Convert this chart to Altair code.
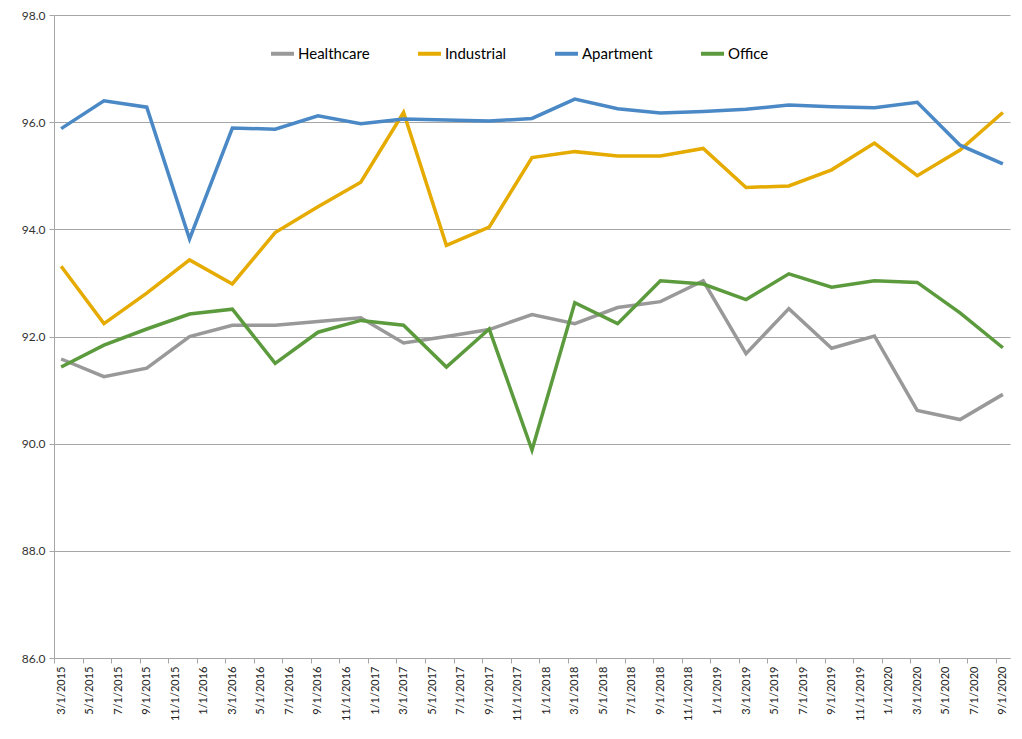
import json
import altair as alt
import pandas as pd

# ---- data ----
dates = ["3/1/2015", "6/1/2015", "9/1/2015", "12/1/2015",
         "3/1/2016", "6/1/2016", "9/1/2016", "12/1/2016",
         "3/1/2017", "6/1/2017", "9/1/2017", "12/1/2017",
         "3/1/2018", "6/1/2018", "9/1/2018", "12/1/2018",
         "3/1/2019", "6/1/2019", "9/1/2019", "12/1/2019",
         "3/1/2020", "6/1/2020", "9/1/2020"]

healthcare = [91.58, 91.25, 91.41, 92.00, 92.21, 92.21, 92.28, 92.35,
              91.88, 92.00, 92.13, 92.41, 92.24, 92.54, 92.65, 93.04,
              91.68, 92.52, 91.78, 92.01, 90.62, 90.45, 90.92]
industrial = [93.31, 92.24, 92.81, 93.43, 92.98, 93.94, 94.42, 94.88,
              96.18, 93.70, 94.04, 95.34, 95.45, 95.37, 95.37, 95.51,
              94.78, 94.81, 95.11, 95.61, 95.00, 95.48, 96.18]
apartment = [95.88, 96.40, 96.28, 93.82, 95.89, 95.87, 96.12, 95.97,
             96.06, 96.04, 96.02, 96.07, 96.43, 96.25, 96.17, 96.20,
             96.24, 96.32, 96.29, 96.27, 96.37, 95.57, 95.22]
office = [91.43, 91.84, 92.14, 92.42, 92.51, 91.50, 92.08, 92.30,
          92.21, 91.43, 92.14, 89.88, 92.63, 92.24, 93.04, 92.98,
          92.69, 93.17, 92.92, 93.04, 93.01, 92.44, 91.79]

x_labels = ["3/1/2015", "5/1/2015", "7/1/2015", "9/1/2015", "11/1/2015",
            "1/1/2016", "3/1/2016", "5/1/2016", "7/1/2016", "9/1/2016", "11/1/2016",
            "1/1/2017", "3/1/2017", "5/1/2017", "7/1/2017", "9/1/2017", "11/1/2017",
            "1/1/2018", "3/1/2018", "5/1/2018", "7/1/2018", "9/1/2018", "11/1/2018",
            "1/1/2019", "3/1/2019", "5/1/2019", "7/1/2019", "9/1/2019", "11/1/2019",
            "1/1/2020", "3/1/2020", "5/1/2020", "7/1/2020", "9/1/2020"]

y_ticks = [86.0, 88.0, 90.0, 92.0, 94.0, 96.0, 98.0]

series_names = ["Healthcare", "Industrial", "Apartment", "Office"]
series_colors = ["#999999", "#E5AB00", "#4A89C5", "#5C9B3D"]


def month_index(s):
    m, d, y = map(int, s.split("/"))
    return (y - 2015) * 12 + (m - 3)


rows = []
for name, vals in zip(series_names, [healthcare, industrial, apartment, office]):
    for dt, v in zip(dates, vals):
        rows.append({"series": name, "date": dt,
                     "pos": month_index(dt) + 0.5, "value": v})
df = pd.DataFrame(rows)

n_months = month_index(x_labels[-1]) + 1
tick_vals = [month_index(s) for s in x_labels]
label_expr = json.dumps(x_labels) + "[round(datum.value / 2)]"

W, H = 956, 643
half_month = W / n_months / 2

FONT = "Lato"
GRID = "#A6A6A6"

x_enc = alt.X(
    "pos:Q",
    title=None,
    scale=alt.Scale(domain=[0, n_months], nice=False, zero=False),
    axis=alt.Axis(values=tick_vals, labelExpr=label_expr, labelAngle=-90,
                  labelOffset=half_month, labelFont=FONT, labelFontSize=11,
                  labelColor="#222222", labelPadding=3, tickSize=5,
                  tickColor=GRID, domainColor=GRID, grid=False,
                  labelOverlap=False, labelFlush=False),
)
y_enc = alt.Y(
    "value:Q",
    title=None,
    scale=alt.Scale(domain=[86, 98], nice=False, zero=False),
    axis=alt.Axis(values=y_ticks, format=".1f", labelFont=FONT, labelFontSize=12,
                  labelColor="#333333", labelPadding=4, tickSize=5,
                  tickColor=GRID, domainColor=GRID, grid=True, gridColor=GRID,
                  gridWidth=1),
)
color_enc = alt.Color(
    "series:N",
    title=None,
    scale=alt.Scale(domain=series_names, range=series_colors),
    legend=alt.Legend(orient="none", legendX=215, legendY=25,
                      direction="horizontal", symbolType="stroke",
                      symbolSize=529, symbolStrokeWidth=4,
                      labelFont=FONT, labelFontSize=15, labelColor="#000000",
                      labelOffset=2, columnPadding=40, padding=0),
)

base = alt.Chart(df).mark_line(strokeWidth=3.5).encode(
    x=x_enc, y=y_enc, color=color_enc, order="pos:Q"
)

layers = [base.transform_filter(alt.datum.series == name) for name in series_names]

chart = alt.layer(*layers).properties(
    width=W, height=H,
    autosize=alt.AutoSizeParams(type="none"),
    padding={"left": 46, "top": 7, "right": 4, "bottom": 70},
    background="white",
).configure_view(strokeWidth=0)

chart.save("out.html", embed_options={"renderer": "svg", "actions": False})
